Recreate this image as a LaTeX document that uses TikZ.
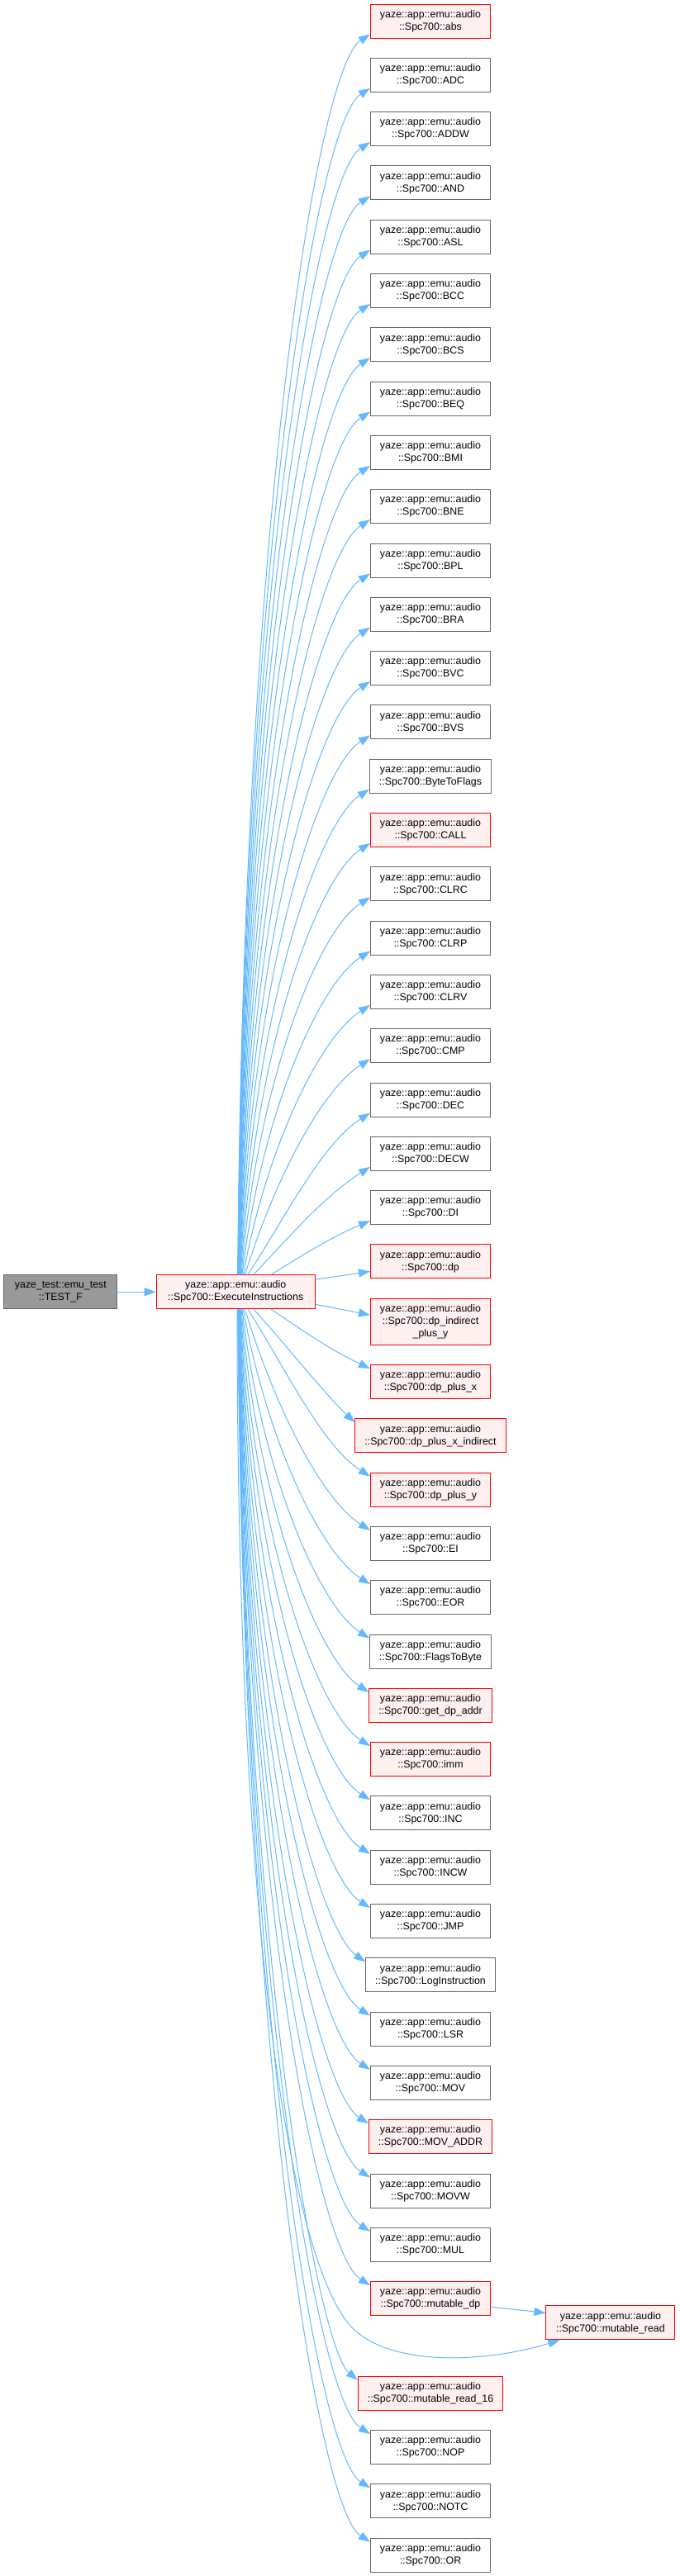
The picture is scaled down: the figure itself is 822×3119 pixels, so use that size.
\documentclass[tikz,border=0pt]{standalone}
\usepackage{fontspec}
\setmainfont{Liberation Sans}
\usetikzlibrary{arrows.meta,calc}
\definecolor{edgeblue}{HTML}{63B8FF}
\definecolor{redfill}{HTML}{FFF0F0}
\definecolor{grayline}{HTML}{666666}
\definecolor{grayfill}{HTML}{999999}
\begin{document}
\begin{tikzpicture}[x=1pt,y=-1pt,
  box/.style={draw, rectangle, align=center, font=\fontsize{12.4}{15}\selectfont,
    inner xsep=11.5pt, inner ysep=2pt, minimum width=144pt, minimum height=41pt, line width=1pt},
  boxred/.style={box, draw=red, fill=redfill},
  boxgray/.style={box, draw=grayline, fill=white},
  boxdark/.style={box, draw=grayline, fill=grayfill},
  edge/.style={draw=edgeblue, line width=1pt, -{Triangle[length=14pt,width=10pt]}}
]
\useasboundingbox (0,0) rectangle (822,3119);

\node[boxdark, minimum width=137pt] (tf) at (73.4,1564.2) {yaze\_test::emu\_test\\::TEST\_F};
\node[boxred, minimum width=192pt] (ex) at (285.2,1564.2) {yaze::app::emu::audio\\::Spc700::ExecuteInstructions};
\draw[edge] (tf.east) -- (ex.west);

\node[boxred, minimum height=56pt] (dpindirect) at (521,1600.2)
  {yaze::app::emu::audio\\::Spc700::dp\_indirect\\\_plus\_y};
\draw[edge] ($(ex.east)+(0,15)$) -- ($(dpindirect.west)+(0,-8)$);

\foreach \i/\nm/\lab/\st in {
1/abs/abs/red, 2/ADC/ADC/gray, 3/ADDW/ADDW/gray, 4/AND/AND/gray, 5/ASL/ASL/gray,
6/BCC/BCC/gray, 7/BCS/BCS/gray, 8/BEQ/BEQ/gray, 9/BMI/BMI/gray, 10/BNE/BNE/gray,
11/BPL/BPL/gray, 12/BRA/BRA/gray, 13/BVC/BVC/gray, 14/BVS/BVS/gray,
15/ByteToFlags/ByteToFlags/gray, 16/CALL/CALL/red, 17/CLRC/CLRC/gray,
18/CLRP/CLRP/gray, 19/CLRV/CLRV/gray, 20/CMP/CMP/gray, 21/DEC/DEC/gray,
22/DECW/DECW/gray, 23/DI/DI/gray, 24/dp/dp/red,
26/dpplusx/dp\_plus\_x/red, 27/dpplusxindirect/dp\_plus\_x\_indirect/red,
28/dpplusy/dp\_plus\_y/red, 29/EI/EI/gray, 30/EOR/EOR/gray,
31/FlagsToByte/FlagsToByte/gray, 32/getdpaddr/get\_dp\_addr/red, 33/imm/imm/red,
34/INC/INC/gray, 35/INCW/INCW/gray, 36/JMP/JMP/gray,
37/LogInstruction/LogInstruction/gray, 38/LSR/LSR/gray, 39/MOV/MOV/gray,
40/MOVADDR/MOV\_ADDR/red, 41/MOVW/MOVW/gray, 42/MUL/MUL/gray,
43/mutabledp/mutable\_dp/red, 44/mutableread16/mutable\_read\_16/red,
45/NOP/NOP/gray, 46/NOTC/NOTC/gray, 47/OR/OR/gray}
{
  \pgfmathsetmacro\yc{5 + (\i-1)*65.3 + 20.5 + (\i>25)*15 + (\i>43)*49.3}
  \node[box\st] (\nm) at (521,\yc) {yaze::app::emu::audio\\::Spc700::\lab};
  \ifnum\i<24
    \pgfmathsetmacro\d{24-\i}
    \pgfmathsetmacro\xs{286+42/\d}
    \pgfmathsetmacro\w{min(1,3/\d)}
    \pgfmathsetmacro\ye{\yc+16}
    \pgfmathsetmacro\pax{\xs+0.3*\w*(449-\xs)}
    \pgfmathsetmacro\pay{1544-(0.65-0.3*\w)*(1544-\ye)}
    \pgfmathsetmacro\pbx{449-0.4*(449-\xs)}
    \pgfmathsetmacro\pby{\ye+min(0.25*(449-\xs),0.3*(1544-\ye))}
    \draw[edge] (\xs,0 |- ex.north) .. controls (\pax,\pay) and (\pbx,\pby) .. ($(\nm.west)+(0,16)$);
  \fi
  \ifnum\i=24
    \draw[edge] ($(ex.east)+(0,-15)$) -- ($(\nm.west)+(0,12)$);
  \fi
  \ifnum\i>25
    \pgfmathsetmacro\d{\i-25}
    \pgfmathsetmacro\xs{286+42/\d}
    \pgfmathsetmacro\w{min(1,3/\d)}
    \pgfmathsetmacro\ye{\yc-16}
    \pgfmathsetmacro\pax{\xs+0.3*\w*(449-\xs)}
    \pgfmathsetmacro\pay{1584+(0.65-0.3*\w)*(\ye-1584)}
    \pgfmathsetmacro\pbx{449-0.4*(449-\xs)}
    \pgfmathsetmacro\pby{\ye-min(0.25*(449-\xs),0.3*(\ye-1584))}
    \draw[edge] (\xs,0 |- ex.south) .. controls (\pax,\pay) and (\pbx,\pby) .. ($(\nm.west)+(0,-16)$);
  \fi
}

\node[boxred, minimum width=156pt] (mutableread) at (738.9,2812.4) {yaze::app::emu::audio\\::Spc700::mutable\_read};
\draw[edge] ($(mutabledp.east)+(0,10)$) -- ($(mutableread.west)+(0,-12)$);
\coordinate (bend) at (430,2822);
\draw[edge] (287,0 |- ex.south) .. controls (287,2400) and (360,2760) .. (bend)
  .. controls (480,2866) and (590,2860) .. ($(mutableread.south west)+(17,0)$);
\end{tikzpicture}
\end{document}
